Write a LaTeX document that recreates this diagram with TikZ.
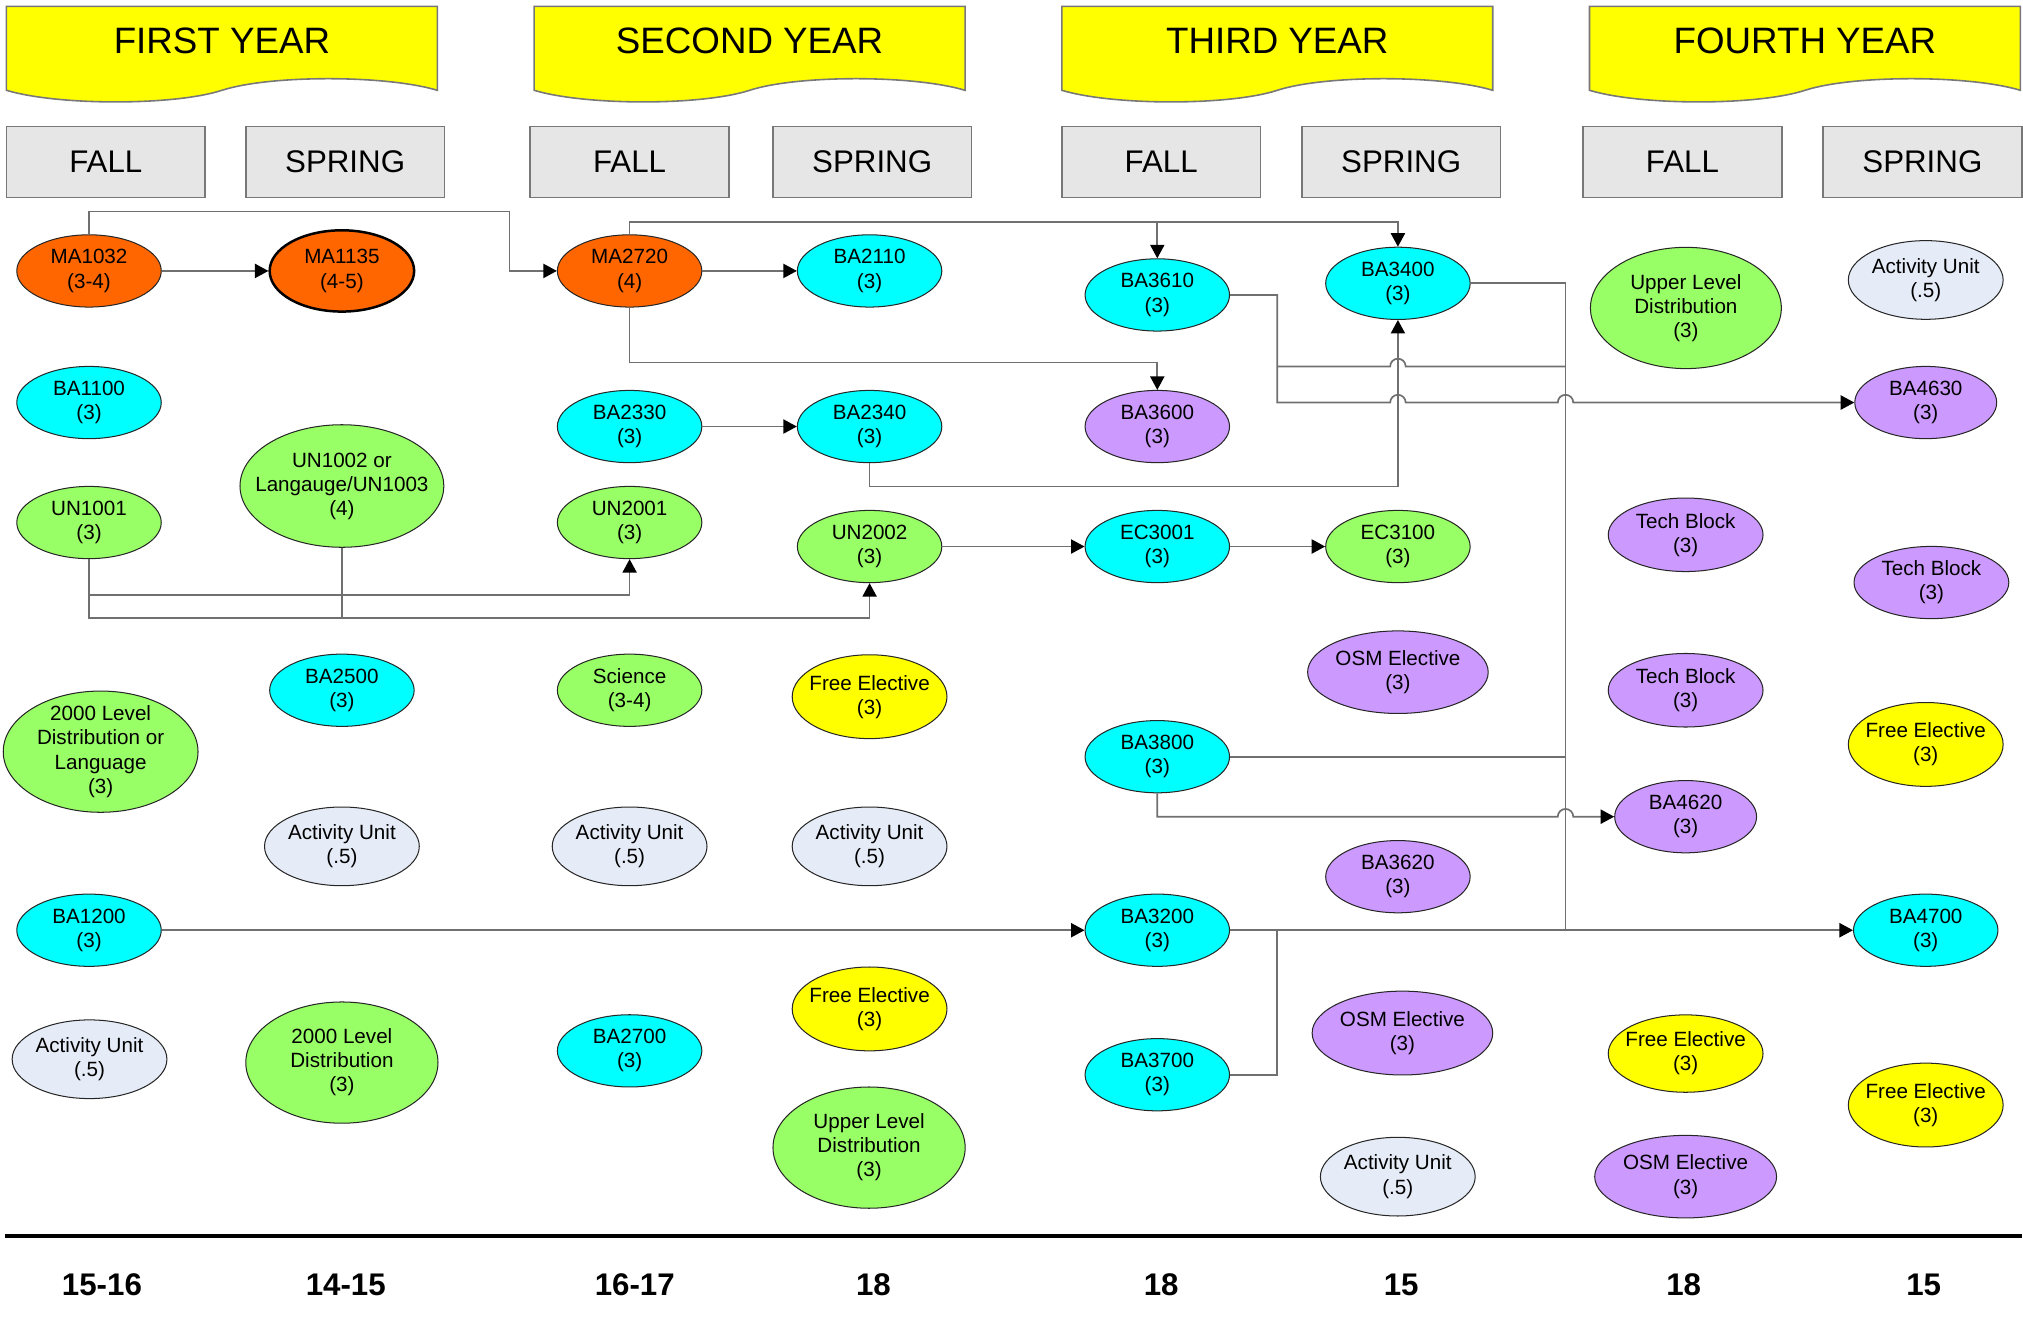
\documentclass[tikz,border=0pt]{standalone}
\usepackage{fontspec}
\setmainfont{Liberation Sans}
\usetikzlibrary{shapes.geometric,arrows.meta}

\definecolor{orangeC}{RGB}{255,102,0}
\definecolor{cyanC}{RGB}{0,255,255}
\definecolor{greenC}{RGB}{153,255,102}
\definecolor{purpleC}{RGB}{204,153,255}
\definecolor{yellowC}{RGB}{255,255,0}
\definecolor{actC}{RGB}{230,236,247}
\definecolor{semC}{RGB}{230,230,230}
\definecolor{rimC}{RGB}{120,120,120}
\definecolor{linkC}{RGB}{112,112,112}

\begin{document}
\begin{tikzpicture}[x=0.02cm,y=-0.02cm,
		>={Triangle[length=0.21cm,width=0.22cm,color=black]},
		banner/.style={fill=yellowC,draw=rimC,line width=0.7pt},
		course/.style={ellipse,draw=black!85,line width=0.45pt,align=center,inner sep=-7pt,
			minimum width=2.24cm,minimum height=1.12cm,font=\fontsize{9.1}{10.6}\selectfont},
		link/.style={draw=linkC,line width=0.75pt}]
		\useasboundingbox (0,0) rectangle (1568,1027);

		% years
		\draw[banner] (5,70) -- (5,5) -- (339,5) -- (339,70) .. controls (299,58) and (209,58) .. (172,70) .. controls (135,82) and (45,82) .. (5,70) -- cycle;
		\draw[banner] (414,70) -- (414,5) -- (748,5) -- (748,70) .. controls (708,58) and (618,58) .. (581,70) .. controls (544,82) and (454,82) .. (414,70) -- cycle;
		\draw[banner] (823,70) -- (823,5) -- (1157,5) -- (1157,70) .. controls (1117,58) and (1027,58) .. (990,70) .. controls (953,82) and (863,82) .. (823,70) -- cycle;
		\draw[banner] (1232,70) -- (1232,5) -- (1566,5) -- (1566,70) .. controls (1526,58) and (1436,58) .. (1399,70) .. controls (1362,82) and (1272,82) .. (1232,70) -- cycle;

		\begin{scope}[every node/.style={font=\fontsize{16.2}{19}\selectfont}]
			\node (yr1) at (172,32) {FIRST YEAR};
			\node (yr2) at (581,32) {SECOND YEAR};
			\node (yr3) at (990,32) {THIRD YEAR};
			\node (yr4) at (1399,32) {FOURTH YEAR};
		\end{scope}

		% semesters
		\begin{scope}[every node/.style={rectangle,fill=semC,draw=rimC,line width=0.7pt,
				minimum width=3.08cm,minimum height=1.1cm,font=\fontsize{13.8}{16}\selectfont}]
			\node (fall1) at (82,125.5) {FALL};
			\node (spring1) at (267.5,125.5) {SPRING};
			\node (fall2) at (488,125.5) {FALL};
			\node (spring2) at (676,125.5) {SPRING};
			\node (fall3) at (900,125.5) {FALL};
			\node (spring3) at (1086,125.5) {SPRING};
			\node (fall4) at (1304,125.5) {FALL};
			\node (spring4) at (1490,125.5) {SPRING};
		\end{scope}

		% courses
		\begin{scope}[every node/.style={course,fill=orangeC}]
			\node (ma1032) at (69,210) {MA1032\\(3-4)};
			\node[draw=black,line width=1.1pt,minimum height=1.26cm] (ma1135) at (265,210) {MA1135\\(4-5)};
			\node (ma2720) at (488,210) {MA2720\\(4)};
		\end{scope}

		\begin{scope}[every node/.style={course,fill=cyanC}]
			\node (ba1100) at (69,312) {BA1100\\(3)};
			\node (ba1200) at (69,721) {BA1200\\(3)};
			\node (ba2500) at (265,535) {BA2500\\(3)};
			\node (ba2330) at (488,330.6) {BA2330\\(3)};
			\node (ba2700) at (488,814.5) {BA2700\\(3)};
			\node (ba2110) at (674,210) {BA2110\\(3)};
			\node (ba2340) at (674,330.6) {BA2340\\(3)};
			\node (ba3610) at (897,228.6) {BA3610\\(3)};
			\node (ec3001) at (897,423.6) {EC3001\\(3)};
			\node (ba3800) at (897,586.5) {BA3800\\(3)};
			\node (ba3200) at (897,721) {BA3200\\(3)};
			\node (ba3700) at (897,833) {BA3700\\(3)};
			\node (ba3400) at (1083.5,219.6) {BA3400\\(3)};
			\node (ba4700) at (1492.6,721) {BA4700\\(3)};
		\end{scope}

		\begin{scope}[every node/.style={course,fill=greenC}]
			\node (un1001) at (69,405) {UN1001\\(3)};
			\node[minimum width=3.02cm,minimum height=1.88cm] (dist1) at (78,582.6) {2000 Level\\Distribution or\\Language\\(3)};
			\node[minimum width=3.16cm,minimum height=1.9cm] (un1002) at (265,376.7) {UN1002 or\\Langauge/UN1003\\(4)};
			\node[minimum width=2.98cm,minimum height=1.88cm] (dist2) at (265,823.6) {2000 Level\\Distribution\\(3)};
			\node (un2001) at (488,405) {UN2001\\(3)};
			\node (sci) at (488,535) {Science\\(3-4)};
			\node (un2002) at (674,423.6) {UN2002\\(3)};
			\node[minimum width=2.98cm,minimum height=1.88cm] (upper4) at (673.6,889.5) {Upper Level\\Distribution\\(3)};
			\node (ec3100) at (1083.5,423.6) {EC3100\\(3)};
			\node[minimum width=2.96cm,minimum height=1.88cm] (upper7) at (1306.7,238.7) {Upper Level\\Distribution\\(3)};
		\end{scope}

		\begin{scope}[every node/.style={course,fill=purpleC}]
			\node (ba3600) at (897,330.6) {BA3600\\(3)};
			\node[minimum width=2.8cm,minimum height=1.28cm] (osm6a) at (1083.5,521) {OSM Elective\\(3)};
			\node (ba3620) at (1083.5,679.5) {BA3620\\(3)};
			\node[minimum width=2.8cm,minimum height=1.3cm] (osm6b) at (1087,800.7) {OSM Elective\\(3)};
			\node[minimum width=2.4cm,minimum height=1.14cm] (tech7a) at (1306.5,414.5) {Tech Block\\(3)};
			\node[minimum width=2.4cm,minimum height=1.14cm] (tech7b) at (1306.5,535) {Tech Block\\(3)};
			\node[minimum width=2.2cm] (ba4620) at (1306.5,633) {BA4620\\(3)};
			\node[minimum width=2.82cm,minimum height=1.28cm] (osm7) at (1306.5,912) {OSM Elective\\(3)};
			\node[minimum width=2.2cm] (ba4630) at (1492.6,312) {BA4630\\(3)};
			\node[minimum width=2.4cm] (tech8) at (1497,451.5) {Tech Block\\(3)};
		\end{scope}

		\begin{scope}[every node/.style={course,fill=yellowC,minimum width=2.4cm,minimum height=1.3cm}]
			\node (free4a) at (674,540) {Free Elective\\(3)};
			\node (free4b) at (674,782) {Free Elective\\(3)};
			\node[minimum height=1.2cm] (free7) at (1306.5,816.6) {Free Elective\\(3)};
			\node (free8a) at (1492.6,577) {Free Elective\\(3)};
			\node (free8b) at (1492.6,856.5) {Free Elective\\(3)};
		\end{scope}

		\begin{scope}[every node/.style={course,fill=actC,minimum width=2.4cm,minimum height=1.22cm}]
			\node (act1) at (69.4,821) {Activity Unit\\(.5)};
			\node (act2) at (265,656) {Activity Unit\\(.5)};
			\node (act3) at (488,656) {Activity Unit\\(.5)};
			\node (act4) at (674,656) {Activity Unit\\(.5)};
			\node (act6) at (1083.4,912) {Activity Unit\\(.5)};
			\node (act8) at (1492.6,217) {Activity Unit\\(.5)};
		\end{scope}

		% prerequisites
		\coordinate (t3) at (897,172);
		\coordinate (jA) at (990,284);
		\coordinate (jB) at (1213.4,284);
		\coordinate (jC) at (1213.4,586.5);
		\coordinate (jD) at (1213.4,721);
		\coordinate (jE) at (990,721);
		\coordinate (jF) at (265,479);

		\begin{scope}[every edge/.style={link}]
			\path [->] (ma1032) edge (ma1135);
			\path [->] (ma2720) edge (ba2110);
			\path [->] (ba2330) edge (ba2340);
			\path [->] (un2002) edge (ec3001);
			\path [->] (ec3001) edge (ec3100);
			\path [->] (ba1200) edge (ba3200);
			\path [->] (ba3200) edge (ba4700);
		\end{scope}

		\begin{scope}[every path/.style={link}]
			\draw [->] (ma1032.north) |- (395,164) |- (ma2720.west);
			\draw [->] (ma2720.north) |- (1083.5,172) -- (ba3400.north);
			\draw [->] (t3) -- (ba3610.north);
			\draw [->] (ma2720.south) |- (897,281) -- (ba3600.north);
			\draw [->] (ba2340.south) |- (1083.5,377) -- (ba3400.south);
			\draw [->] (un1001.south) |- (488,461) -- (un2001.south);
			\draw [->] (un1001.south) |- (674,479) -- (un2002.south);
			\draw [-] (un1002.south) -- (jF);
			\draw [->] (ba3610.east) -| (990,312) -- (1077.5,312) arc[start angle=180,end angle=0,radius=0.12cm]
				-- (1207.4,312) arc[start angle=180,end angle=0,radius=0.12cm] -- (ba4630.west);
			\draw [-] (jA) -- (1077.5,284) arc[start angle=180,end angle=0,radius=0.12cm] -- (jB);
			\draw [-] (ba3400.east) -| (jD);
			\draw [-] (ba3800.east) -- (jC);
			\draw [->] (ba3800.south) |- (1207.4,633) arc[start angle=180,end angle=0,radius=0.12cm] -- (ba4620.west);
			\draw [-] (ba3700.east) -| (jE);
		\end{scope}

		\draw [line width=1.8pt] (4,958) -- (1567,958);

		% credits
		\begin{scope}[every node/.style={font=\fontsize{13.8}{16}\selectfont\bfseries}]
			\node (cr1) at (79,995.7) {15-16};
			\node (cr2) at (268,995.7) {14-15};
			\node (cr3) at (492,995.7) {16-17};
			\node (cr4) at (677,995.7) {18};
			\node (cr5) at (900,995.7) {18};
			\node (cr6) at (1086,995.7) {15};
			\node (cr7) at (1305,995.7) {18};
			\node (cr8) at (1491,995.7) {15};
		\end{scope}
	\end{tikzpicture}
\end{document}
